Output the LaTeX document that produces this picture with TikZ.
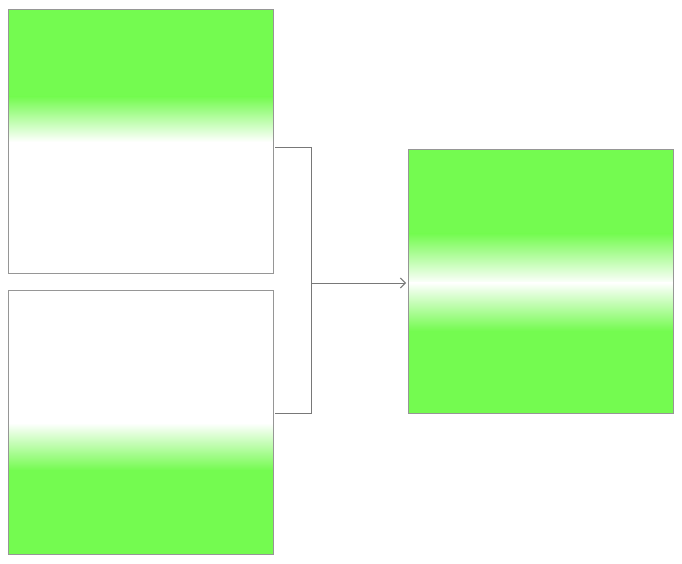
\documentclass[tikz,border=0pt]{standalone}
\usetikzlibrary{arrows.meta}
\definecolor{lg}{RGB}{116,251,80}
\definecolor{bordergray}{RGB}{150,150,150}
\definecolor{linegray}{RGB}{120,120,120}
\tikzset{
  box/.style={draw=bordergray, line width=0.9pt, minimum width=265pt, minimum height=264pt, inner sep=0pt, outer sep=0pt},
  conn/.style={draw=linegray, line width=1pt},
}
\begin{document}
\begin{tikzpicture}[x=1pt,y=-1pt]
\useasboundingbox[fill=white] (0,0) rectangle (682,564);
% top-left box fill
\fill[lg] (8,9) rectangle (273,97);
\shade[top color=lg, bottom color=white] (8,96.5) rectangle (273,142);
% bottom-left box fill
\shade[top color=white, bottom color=lg] (8,423) rectangle (273,470.5);
\fill[lg] (8,470) rectangle (273,555);
% right box fill
\fill[lg] (408,149) rectangle (673,234);
\shade[top color=lg, bottom color=white] (408,233.5) rectangle (673,283.5);
\shade[top color=white, bottom color=lg] (408,282.5) rectangle (673,331);
\fill[lg] (408,330.5) rectangle (673,413);
% boxes
\node[box] (a) at (140.5,141) {};
\node[box] (b) at (140.5,422.5) {};
\node[box] (c) at (540.5,281) {};
% connectors
\coordinate (j) at (311,283);
\coordinate (ja) at (311,148);
\coordinate (jb) at (311,413);
\draw[conn] ([xshift=2pt]a.east |- ja) -- (ja) -- (jb) -- ([xshift=2pt]b.east |- jb);
\draw[conn, -{Straight Barb[length=5pt,width=10pt]}] (j) -- ([xshift=-2pt]c.west |- j);
\end{tikzpicture}
\end{document}
